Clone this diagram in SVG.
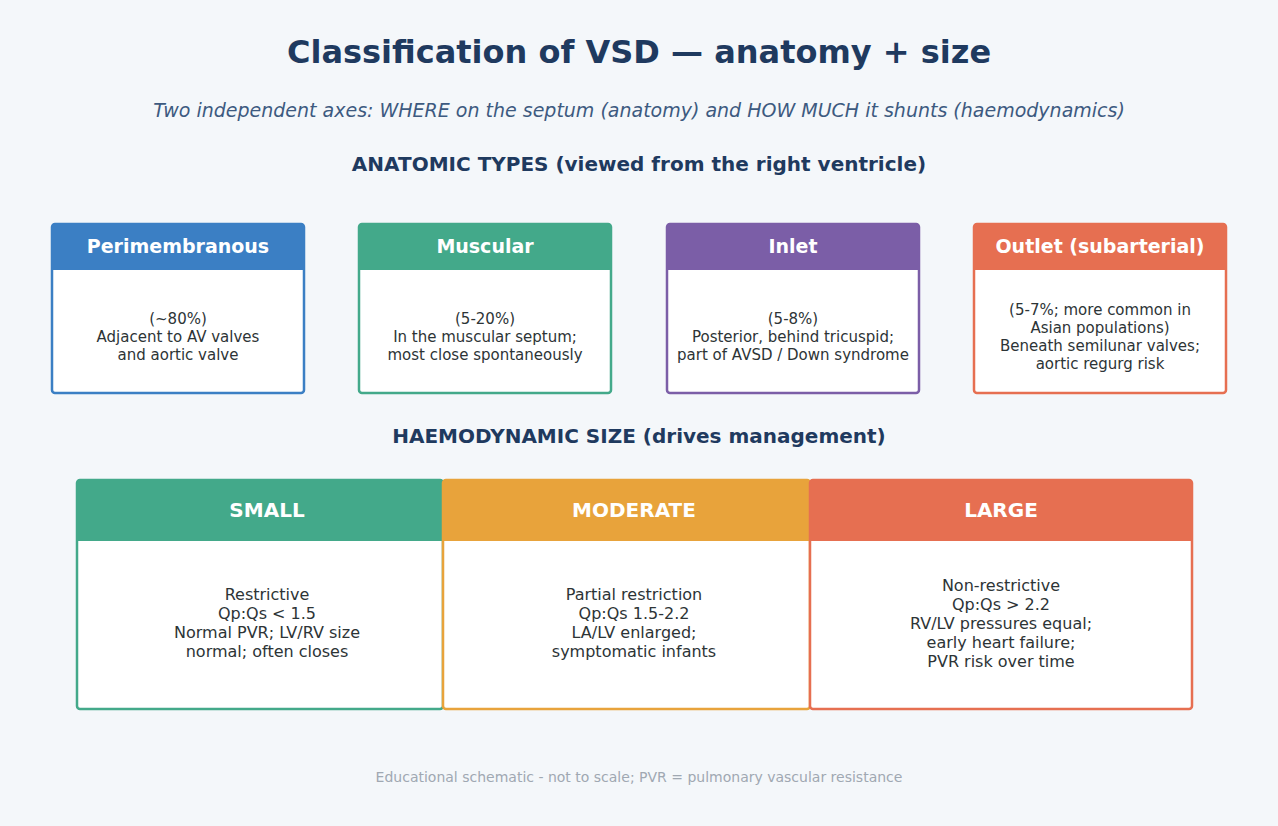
<svg xmlns="http://www.w3.org/2000/svg" width="1278" height="826" viewBox="0 0 1278 826">
<style>
.t{font-family:"DejaVu Sans",Verdana,sans-serif;text-anchor:middle}
.title{font-size:32px;font-weight:bold;fill:#1f3a5f}
.sub{font-size:19px;font-style:italic;fill:#3d5a80}
.sec{font-size:20px;font-weight:bold;fill:#1f3a5f}
.hd{font-size:19px;font-weight:bold;fill:#ffffff}
.hd2{font-size:20px;font-weight:bold;fill:#ffffff}
.bd{font-size:15px;fill:#2d3436}
.bd2{font-size:16px;fill:#2d3436}
.ft{font-size:14px;fill:#a0a8b2}
.body{fill:#ffffff;stroke-width:2.5}
</style>
<rect width="1278" height="826" fill="#f4f7fa"/>
<text class="t title" x="639" y="63">Classification of VSD — anatomy + size</text>
<text class="t sub" x="639" y="117">Two independent axes: WHERE on the septum (anatomy) and HOW MUCH it shunts (haemodynamics)</text>
<text class="t sec" x="639" y="171">ANATOMIC TYPES (viewed from the right ventricle)</text>

<g id="perimembranous">
<rect class="body" x="52" y="224" width="252" height="169" rx="3" stroke="#3b7fc4"/>
<path d="M52 227a3 3 0 0 1 3-3h246a3 3 0 0 1 3 3v43H52z" fill="#3b7fc4"/>
<text class="t hd" x="178" y="253">Perimembranous</text>
<text class="t bd" x="178" y="324">(~80%)</text>
<text class="t bd" x="178" y="342">Adjacent to AV valves</text>
<text class="t bd" x="178" y="360">and aortic valve</text>
</g>
<g id="muscular">
<rect class="body" x="359" y="224" width="252" height="169" rx="3" stroke="#43a98a"/>
<path d="M359 227a3 3 0 0 1 3-3h246a3 3 0 0 1 3 3v43H359z" fill="#43a98a"/>
<text class="t hd" x="485" y="253">Muscular</text>
<text class="t bd" x="485" y="324">(5-20%)</text>
<text class="t bd" x="485" y="342">In the muscular septum;</text>
<text class="t bd" x="485" y="360">most close spontaneously</text>
</g>
<g id="inlet">
<rect class="body" x="667" y="224" width="252" height="169" rx="3" stroke="#7b5ea7"/>
<path d="M667 227a3 3 0 0 1 3-3h246a3 3 0 0 1 3 3v43H667z" fill="#7b5ea7"/>
<text class="t hd" x="793" y="253">Inlet</text>
<text class="t bd" x="793" y="324">(5-8%)</text>
<text class="t bd" x="793" y="342">Posterior, behind tricuspid;</text>
<text class="t bd" x="793" y="360">part of AVSD / Down syndrome</text>
</g>
<g id="outlet">
<rect class="body" x="974" y="224" width="252" height="169" rx="3" stroke="#e66f51"/>
<path d="M974 227a3 3 0 0 1 3-3h246a3 3 0 0 1 3 3v43H974z" fill="#e66f51"/>
<text class="t hd" x="1100" y="253">Outlet (subarterial)</text>
<text class="t bd" x="1100" y="315">(5-7%; more common in</text>
<text class="t bd" x="1100" y="333">Asian populations)</text>
<text class="t bd" x="1100" y="351">Beneath semilunar valves;</text>
<text class="t bd" x="1100" y="369">aortic regurg risk</text>
</g>

<text class="t sec" x="639" y="443">HAEMODYNAMIC SIZE (drives management)</text>

<g id="small">
<rect class="body" x="77" y="480" width="366" height="229" rx="3" stroke="#43a98a"/>
<path d="M77 483a3 3 0 0 1 3-3h363v61H77z" fill="#43a98a"/>
<text class="t hd2" x="267" y="517">SMALL</text>
<text class="t bd2" x="267" y="600">Restrictive</text>
<text class="t bd2" x="267" y="619">Qp:Qs &lt; 1.5</text>
<text class="t bd2" x="267" y="638">Normal PVR; LV/RV size</text>
<text class="t bd2" x="267" y="657">normal; often closes</text>
</g>
<g id="moderate">
<rect class="body" x="443" y="480" width="367" height="229" rx="3" stroke="#e8a33b"/>
<path d="M443 480h367v61H443z" fill="#e8a33b"/>
<text class="t hd2" x="634" y="517">MODERATE</text>
<text class="t bd2" x="634" y="600">Partial restriction</text>
<text class="t bd2" x="634" y="619">Qp:Qs 1.5-2.2</text>
<text class="t bd2" x="634" y="638">LA/LV enlarged;</text>
<text class="t bd2" x="634" y="657">symptomatic infants</text>
</g>
<g id="large">
<rect class="body" x="810" y="480" width="382" height="229" rx="3" stroke="#e66f51"/>
<path d="M810 480h379a3 3 0 0 1 3 3v58H810z" fill="#e66f51"/>
<text class="t hd2" x="1001" y="517">LARGE</text>
<text class="t bd2" x="1001" y="591">Non-restrictive</text>
<text class="t bd2" x="1001" y="610">Qp:Qs &gt; 2.2</text>
<text class="t bd2" x="1001" y="629">RV/LV pressures equal;</text>
<text class="t bd2" x="1001" y="648">early heart failure;</text>
<text class="t bd2" x="1001" y="667">PVR risk over time</text>
</g>
<g id="connectors"/>
<text class="t ft" x="639" y="782">Educational schematic - not to scale; PVR = pulmonary vascular resistance</text>
</svg>
